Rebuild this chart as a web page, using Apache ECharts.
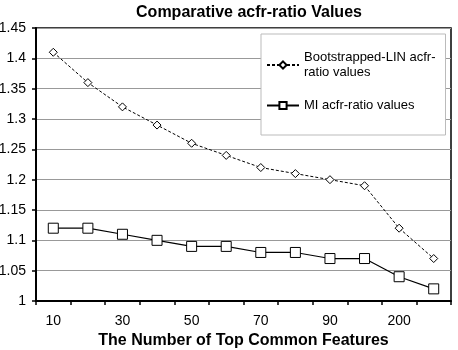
<!DOCTYPE html>
<html>
<head>
<meta charset="utf-8">
<script src="https://cdn.jsdelivr.net/npm/echarts@6/dist/echarts.min.js"></script>
<style>
  html, body { margin: 0; padding: 0; background: #fff; }
  #chart { width: 458px; height: 350px; }
</style>
</head>
<body>
<div id="chart"></div>
<script>
// categories on the x axis
var features = ['10', '20', '30', '40', '50', '60', '70', '80', '90', '100', '200', '300'];
// series values
var bootstrappedLin = [1.41, 1.36, 1.32, 1.29, 1.26, 1.24, 1.22, 1.21, 1.20, 1.19, 1.12, 1.07];
var miValues = [1.12, 1.12, 1.11, 1.10, 1.09, 1.09, 1.08, 1.08, 1.07, 1.07, 1.04, 1.02];

var font = 'Liberation Sans, Arial, sans-serif';
var myChart = echarts.init(document.getElementById('chart'));

var option = {
  animation: false,
  title: {
    text: 'Comparative acfr-ratio Values',
    left: 244,
    textAlign: 'center',
    top: 0,
    textStyle: { fontFamily: font, fontSize: 16, fontWeight: 'bold', color: '#000' }
  },
  grid: {
    left: 36, right: 7, top: 28, bottom: 49,
    outerBoundsMode: 'none',
    containLabel: false,
    show: true,
    borderColor: '#000',
    borderWidth: 1.5,
    backgroundColor: '#fff'
  },
  legend: {
    orient: 'vertical',
    left: 261,
    top: 34,
    width: 173,
    padding: [16, 10, 22, 5],
    itemGap: 18,
    itemWidth: 32,
    itemHeight: 9,
    backgroundColor: '#fff',
    borderColor: '#bbb',
    borderWidth: 1,
    textStyle: { fontFamily: font, fontSize: 13, color: '#000', lineHeight: 15 },
    formatter: function (name) {
      return name === 'Bootstrapped-LIN acfr-ratio values' ? 'Bootstrapped-LIN acfr-\nratio values' : name;
    },
    data: ['Bootstrapped-LIN acfr-ratio values', 'MI acfr-ratio values']
  },
  xAxis: {
    type: 'category',
    data: features,
    boundaryGap: true,
    name: 'The Number of Top Common Features',
    nameLocation: 'middle',
    nameGap: 32,
    nameTextStyle: { fontFamily: font, fontSize: 16, fontWeight: 'bold', color: '#000' },
    axisLine: { lineStyle: { color: '#000', width: 2 } },
    axisTick: { show: true, length: 4, interval: 0, lineStyle: { color: '#000', width: 1.5 } },
    axisLabel: {
      interval: 1, margin: 13,
      fontFamily: font, fontSize: 14, color: '#000'
    },
    splitLine: { show: false }
  },
  yAxis: {
    type: 'value',
    min: 1,
    max: 1.45,
    interval: 0.05,
    axisLine: { show: true, lineStyle: { color: '#000', width: 2 } },
    axisTick: { show: true, length: 4, lineStyle: { color: '#000', width: 1.5 } },
    axisLabel: {
      margin: 10,
      fontFamily: font, fontSize: 14, color: '#000',
      formatter: function (v) { return String(parseFloat(v.toFixed(2))); }
    },
    splitLine: { show: true, lineStyle: { color: '#999', width: 1 } }
  },
  series: [
    {
      name: 'Bootstrapped-LIN acfr-ratio values',
      type: 'line',
      data: bootstrappedLin,
      symbol: 'diamond',
      symbolSize: 8,
      itemStyle: { color: '#fff', borderColor: '#000', borderWidth: 1 },
      lineStyle: { color: '#000', width: 1, type: [3, 2] },
      z: 3
    },
    {
      name: 'MI acfr-ratio values',
      type: 'line',
      data: miValues,
      symbol: 'rect',
      symbolSize: 10,
      itemStyle: { color: '#fff', borderColor: '#000', borderWidth: 1 },
      lineStyle: { color: '#000', width: 1.2 },
      z: 3
    }
  ]
};
myChart.setOption(option);
</script>
</body>
</html>
